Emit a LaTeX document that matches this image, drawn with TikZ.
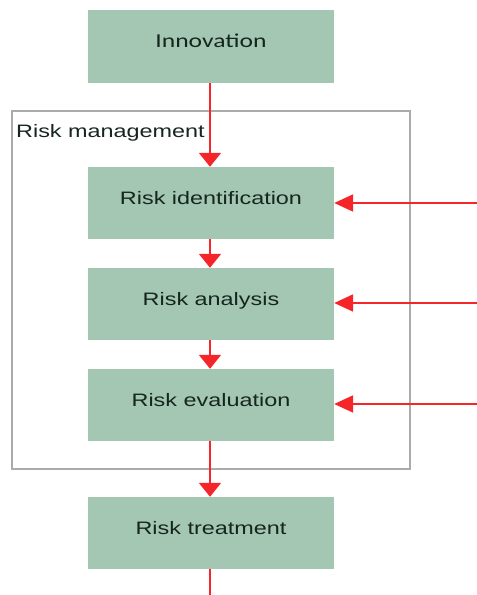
\documentclass[tikz,border=0pt]{standalone}
\usepackage{fontspec}
\setmainfont[FakeStretch=1.3]{Liberation Sans}
\newfontfamily\calibrifont[FakeStretch=1.3]{Carlito}
\usetikzlibrary{arrows.meta}
\definecolor{boxgreen}{HTML}{A3C7B3}
\definecolor{txtdark}{HTML}{16261E}
\definecolor{framegray}{HTML}{ABABAB}
\definecolor{arrred}{HTML}{F5262A}
\tikzset{
  stepbox/.style={fill=boxgreen, draw=none, minimum width=246pt, minimum height=72pt,
    inner sep=0pt, text=txtdark, font=\fontsize{18}{20}\selectfont,
    text height=12.6pt, text depth=10pt},
  flowv/.style={draw=arrred, line width=2pt, -{Triangle[width=22pt,length=14pt]}},
  flowh/.style={draw=arrred, line width=2pt, -{Triangle[width=17pt,length=19pt]}},
  frame/.style={draw=framegray, line width=1.6pt}
}
\begin{document}
\begin{tikzpicture}[x=1pt,y=1pt]
\useasboundingbox (0,0) rectangle (477,595);
\node[stepbox, minimum height=73pt, font=\calibrifont\fontsize{19.7}{22}\selectfont] (inn) at (211,548.5) {Innovation};
\node[frame, minimum width=398pt, minimum height=358pt, inner sep=0pt] (rm) at (211,305) {};
\node[anchor=base west, inner sep=0pt, text=txtdark, font=\fontsize{18}{20}\selectfont] (rmlabel) at (16,457) {Risk management};
\node[stepbox] (ri) at (211,392) {Risk identification};
\node[stepbox] (ra) at (211,291) {Risk analysis};
\node[stepbox] (re) at (211,190) {Risk evaluation};
\node[stepbox] (rt) at (211,62) {Risk treatment};
\coordinate (ein) at (477,392);
\coordinate (ean) at (477,292);
\coordinate (eev) at (477,191);
\coordinate (out) at (210,0);
\draw[flowv] (inn.south -| 210,0) -- (ri.north -| 210,0);
\draw[flowv] (ri.south -| 210,0) -- (ra.north -| 210,0);
\draw[flowv] (ra.south -| 210,0) -- (re.north -| 210,0);
\draw[flowv] (re.south -| 210,0) -- (rt.north -| 210,0);
\draw[draw=arrred, line width=2pt] (rt.south -| 210,0) -- (out);
\draw[flowh] (ein) -- (ein -| ri.east);
\draw[flowh] (ean) -- (ean -| ra.east);
\draw[flowh] (eev) -- (eev -| re.east);
\end{tikzpicture}
\end{document}
